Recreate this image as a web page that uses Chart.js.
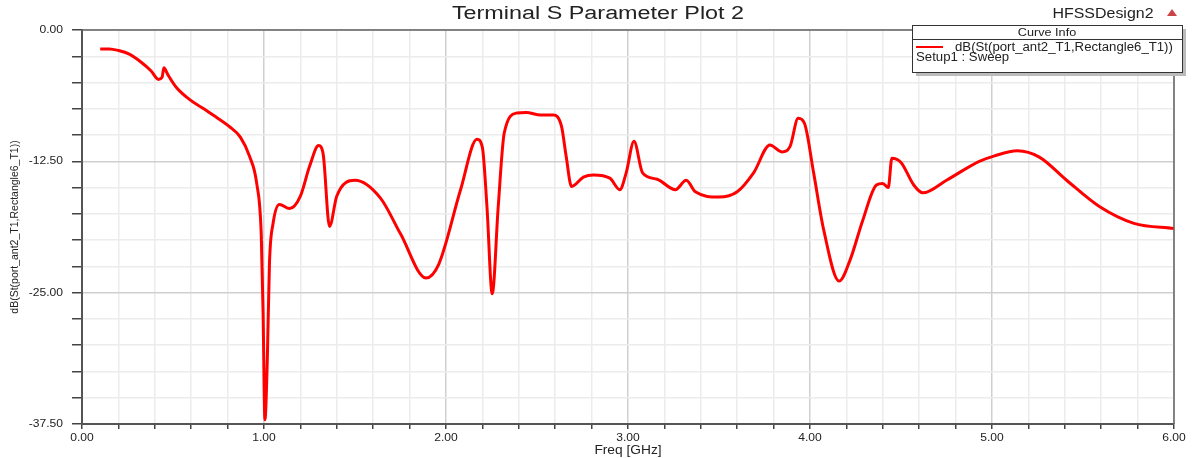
<!DOCTYPE html>
<html lang="en">
<head>
    <meta charset="UTF-8">
    <title>Terminal S Parameter Plot 2</title>
    <style>
        html, body { margin: 0; padding: 0; background: #fff; }
        .chart-container { width: 1192px; height: 458px; }
    </style>
</head>
<body>
    <div class="chart-container">
        <canvas id="sparam-chart" width="1192" height="458"></canvas>
    </div>

    <script src="https://cdn.jsdelivr.net/npm/chart.js"></script>
    <script>
        // frequency points (GHz) and S-parameter (dB)
        var freqGHz = [0.10, 0.15, 0.20, 0.26, 0.32, 0.38, 0.42, 0.44, 0.45, 0.47,
            0.52, 0.59, 0.66, 0.72, 0.81, 0.87, 0.92, 0.96, 0.985, 0.995,
            1.005, 1.018, 1.03, 1.05, 1.085, 1.14, 1.20, 1.25, 1.30, 1.325,
            1.36, 1.40, 1.50, 1.64, 1.75, 1.89, 1.96, 2.08, 2.17, 2.20,
            2.225, 2.254, 2.287, 2.32, 2.39, 2.44, 2.52, 2.59, 2.635, 2.66,
            2.69, 2.755, 2.81, 2.90, 2.955, 2.99, 3.033, 3.08, 3.16, 3.26,
            3.32, 3.37, 3.50, 3.60, 3.69, 3.78, 3.845, 3.89, 3.935, 3.97,
            4.02, 4.075, 4.16, 4.22, 4.29, 4.365, 4.40, 4.43, 4.45, 4.50,
            4.57, 4.62, 4.75, 4.93, 5.01, 5.14, 5.26, 5.41, 5.59, 5.78, 6.00];
        var sParamDb = [-1.8, -1.8, -1.95, -2.3, -3.0, -3.9, -4.7, -4.5, -3.6, -4.2,
            -5.5, -6.6, -7.4, -8.1, -9.2, -10.2, -12.0, -14.6, -19.5, -27.0,
            -37.1, -31.5, -22.2, -18.4, -16.6, -17.0, -15.8, -13.0, -11.0, -11.8,
            -18.7, -15.8, -14.3, -16.0, -19.4, -23.6, -22.3, -15.2, -10.4, -11.2,
            -16.8, -25.1, -16.8, -9.8, -7.9, -7.85, -8.1, -8.1, -9.2, -12.0,
            -14.9, -14.0, -13.8, -14.1, -15.2, -13.6, -10.6, -13.6, -14.2, -15.2,
            -14.3, -15.4, -15.9, -15.4, -13.6, -10.95, -11.6, -11.1, -8.4, -8.9,
            -13.6, -19.0, -23.9, -21.9, -18.1, -14.75, -14.6, -15.0, -12.2, -12.6,
            -14.75, -15.5, -14.3, -12.5, -12.0, -11.5, -12.1, -14.3, -16.8, -18.4, -18.9];

        var xTickMin = 0, xTickMax = 6, xStep = 0.2, xMajor = 1;
        var yTickMin = -37.5, yTickMax = 0, yStep = 2.5, yMajor = 12.5;

        var plotTitle = 'Terminal S Parameter Plot 2';
        var designName = 'HFSSDesign2';
        var curveName = 'dB(St(port_ant2_T1,Rectangle6_T1))';
        var setupName = 'Setup1 : Sweep';

        var FONT = '"Liberation Sans", Arial, sans-serif';
        var textStretch = 1.1;   // HFSS text comes out a bit wide

        function isMajor(v, major) {
            var r = v / major;
            return Math.abs(r - Math.round(r)) < 1e-6;
        }

        var points = freqGHz.map(function (f, i) { return { x: f, y: sParamDb[i] }; });

        var ctx = document.getElementById('sparam-chart').getContext('2d');

        // widen horizontal text a little (rotated text left alone)
        var rawFillText = ctx.fillText.bind(ctx);
        ctx.fillText = function (text, x, y) {
            var m = ctx.getTransform();
            if (Math.abs(m.b) > 1e-6) { rawFillText(text, x, y); return; }
            ctx.save();
            ctx.translate(x, y);
            ctx.scale(textStretch, 1);
            rawFillText(text, 0, 0);
            ctx.restore();
        };

        // draws title, design name, curve info box and plot frame
        var hfssDecor = {
            id: 'hfssDecor',
            afterDraw: function (chart) {
                var c = chart.ctx, a = chart.chartArea;
                c.save();
                c.strokeStyle = '#666';
                c.lineWidth = 1.5;
                c.beginPath();
                c.moveTo(a.left, a.top);
                c.lineTo(a.right, a.top);
                c.lineTo(a.right, a.bottom);
                c.stroke();

                c.fillStyle = '#222';
                c.textBaseline = 'middle';
                c.textAlign = 'center';
                c.font = '18px ' + FONT;
                c.save();
                c.translate(598, 14);
                c.scale(1.18, 1);
                c.fillText(plotTitle, 0, 0);
                c.restore();
                c.font = '14.5px ' + FONT;
                c.fillText(designName, 1103, 14);

                // small triangle logo
                c.fillStyle = '#c44';
                c.beginPath();
                c.moveTo(1172, 9);
                c.lineTo(1167, 16);
                c.lineTo(1177, 16);
                c.closePath();
                c.fill();

                // curve info box
                var bx = 912, by = 25, bw = 270, bh = 47;
                c.fillStyle = '#bbb';
                c.fillRect(bx + 4, by + 4, bw, bh);
                c.fillStyle = '#fff';
                c.fillRect(bx, by, bw, bh);
                c.strokeStyle = '#333';
                c.lineWidth = 1;
                c.strokeRect(bx + 0.5, by + 0.5, bw, bh);
                c.beginPath();
                c.moveTo(bx, by + 14.5);
                c.lineTo(bx + bw, by + 14.5);
                c.stroke();

                c.fillStyle = '#222';
                c.font = '11.5px ' + FONT;
                c.textAlign = 'center';
                c.fillText('Curve Info', bx + bw / 2, by + 8);
                c.strokeStyle = '#ff0000';
                c.lineWidth = 2;
                c.beginPath();
                c.moveTo(bx + 4, by + 22);
                c.lineTo(bx + 31, by + 22);
                c.stroke();
                c.textAlign = 'left';
                c.font = '12px ' + FONT;
                c.fillText(curveName, bx + 43, by + 23);
                c.fillText(setupName, bx + 4, by + 33);
                c.restore();
            }
        };

        var chart = new Chart(ctx, {
            type: 'line',
            data: {
                datasets: [{
                    label: curveName,
                    data: points,
                    borderColor: '#ff0000',
                    borderWidth: 3,
                    pointRadius: 0,
                    fill: false,
                    cubicInterpolationMode: 'monotone'
                }]
            },
            plugins: [hfssDecor],
            options: {
                responsive: false,
                animation: false,
                layout: { padding: { top: 30, right: 18, left: 9, bottom: 0 } },
                plugins: {
                    legend: { display: false },
                    title: { display: false },
                    tooltip: { enabled: false }
                },
                scales: {
                    x: {
                        type: 'linear',
                        min: xTickMin,
                        max: xTickMax,
                        afterFit: function (s) { s.height = 34; },
                        afterBuildTicks: function (s) {
                            var t = [];
                            for (var i = 0; i <= Math.round((xTickMax - xTickMin) / xStep); i++) {
                                t.push({ value: +(xTickMin + i * xStep).toFixed(4) });
                            }
                            s.ticks = t;
                        },
                        border: { color: '#555', width: 2 },
                        grid: {
                            color: function (c) { return isMajor(c.tick.value, xMajor) ? '#cfcfcf' : '#ececec'; },
                            lineWidth: 1.5,
                            tickLength: 5,
                            tickColor: '#444'
                        },
                        ticks: {
                            autoSkip: false,
                            maxRotation: 0,
                            padding: 2,
                            color: '#222',
                            font: { family: FONT, size: 11 },
                            callback: function (v) { return isMajor(v, xMajor) ? v.toFixed(2) : ''; }
                        },
                        title: {
                            display: true,
                            text: 'Freq [GHz]',
                            color: '#222',
                            padding: { top: -3, bottom: 0 },
                            font: { family: FONT, size: 12.5 }
                        }
                    },
                    y: {
                        type: 'linear',
                        min: yTickMin,
                        max: yTickMax,
                        afterFit: function (s) { s.width = 73; },
                        afterBuildTicks: function (s) {
                            var t = [];
                            for (var i = 0; i <= Math.round((yTickMax - yTickMin) / yStep); i++) {
                                t.push({ value: +(yTickMin + i * yStep).toFixed(4) });
                            }
                            s.ticks = t;
                        },
                        border: { color: '#555', width: 2 },
                        grid: {
                            color: function (c) { return isMajor(c.tick.value, yMajor) ? '#cfcfcf' : '#ececec'; },
                            lineWidth: 1.5,
                            tickLength: 10,
                            tickColor: '#444'
                        },
                        ticks: {
                            autoSkip: false,
                            padding: 9,
                            color: '#222',
                            font: { family: FONT, size: 11 },
                            callback: function (v) { return isMajor(v, yMajor) ? v.toFixed(2) : ''; }
                        },
                        title: {
                            display: true,
                            text: curveName,
                            color: '#222',
                            padding: { top: 0, bottom: 0 },
                            font: { family: FONT, size: 10.5 }
                        }
                    }
                }
            }
        });
    </script>
</body>
</html>
